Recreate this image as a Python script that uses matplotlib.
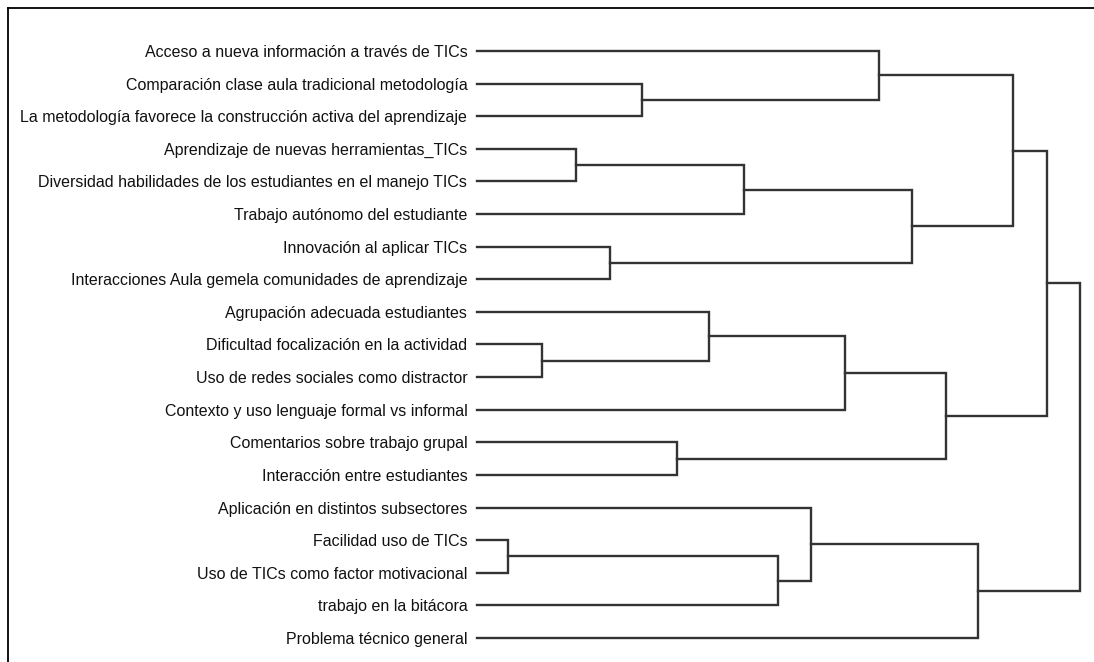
import matplotlib
matplotlib.use("Agg")
import matplotlib.pyplot as plt
from matplotlib.lines import Line2D

# etiquetas de las hojas, en el orden del dendrograma (de arriba a abajo)
etiquetas = [
    "Acceso a nueva información a través de TICs",
    "Comparación clase aula tradicional metodología",
    "La metodología favorece la construcción activa del aprendizaje",
    "Aprendizaje de nuevas herramientas_TICs",
    "Diversidad habilidades de los estudiantes en el manejo TICs",
    "Trabajo autónomo del estudiante",
    "Innovación al aplicar TICs",
    "Interacciones Aula gemela comunidades de aprendizaje",
    "Agrupación adecuada estudiantes",
    "Dificultad focalización en la actividad",
    "Uso de redes sociales como distractor",
    "Contexto y uso lenguaje formal vs informal",
    "Comentarios sobre trabajo grupal",
    "Interacción entre estudiantes",
    "Aplicación en distintos subsectores",
    "Facilidad uso de TICs",
    "Uso de TICs como factor motivacional",
    "trabajo en la bitácora",
    "Problema técnico general",
]

# uniones: (nodo izquierdo, nodo derecho, distancia reescalada 0-25)
# nodos 0..18 son hojas; cada unión crea el nodo 19, 20, ...
uniones = [
    (15, 16, 1.29),   # 19
    (9, 10, 2.69),    # 20
    (3, 4, 4.10),     # 21
    (6, 7, 5.51),     # 22
    (1, 2, 6.84),     # 23
    (12, 13, 8.29),   # 24
    (8, 20, 9.62),    # 25
    (21, 5, 11.07),   # 26
    (19, 17, 12.48),  # 27
    (14, 27, 13.85),  # 28
    (25, 11, 15.26),  # 29
    (0, 23, 16.67),   # 30
    (26, 22, 18.03),  # 31
    (29, 24, 19.44),  # 32
    (28, 18, 20.77),  # 33
    (30, 31, 22.22),  # 34
    (34, 32, 23.63),  # 35
    (35, 33, 25.00),  # 36
]

n = len(etiquetas)
pos_y = {i: float(i) for i in range(n)}
altura = {i: 0.0 for i in range(n)}

fig = plt.figure(figsize=(10.94, 6.62), dpi=100)
W, H = 1094, 662
ax = fig.add_axes([477 / W, 1 - 638 / H, 603 / W, (638 - 51) / H])

color = "#333333"
lw = 1.7
for k, (a, b, d) in enumerate(uniones):
    nodo = n + k
    ya, yb = pos_y[a], pos_y[b]
    ax.plot([altura[a], d, d, altura[b]], [ya, ya, yb, yb],
            color=color, lw=lw, solid_joinstyle="miter", clip_on=False)
    pos_y[nodo] = (ya + yb) / 2
    altura[nodo] = d

ax.set_xlim(0, 25)
ax.set_ylim(n - 1, 0)
ax.set_yticks(range(n))
ax.set_yticklabels(etiquetas, family=["Liberation Sans Narrow", "Liberation Sans"],
                   fontsize=11.5, color="#111111")
ax.tick_params(axis="y", length=0, pad=7)
ax.set_xticks([])
for s in ax.spines.values():
    s.set_visible(False)

# marco exterior (izquierda y arriba)
fig.add_artist(Line2D([8 / W, 8 / W], [0, 1 - 8 / H], color="black", lw=1.3))
fig.add_artist(Line2D([8 / W, 1], [1 - 8 / H, 1 - 8 / H], color="black", lw=1.3))

fig.savefig("out.png", dpi=100, facecolor="white")
